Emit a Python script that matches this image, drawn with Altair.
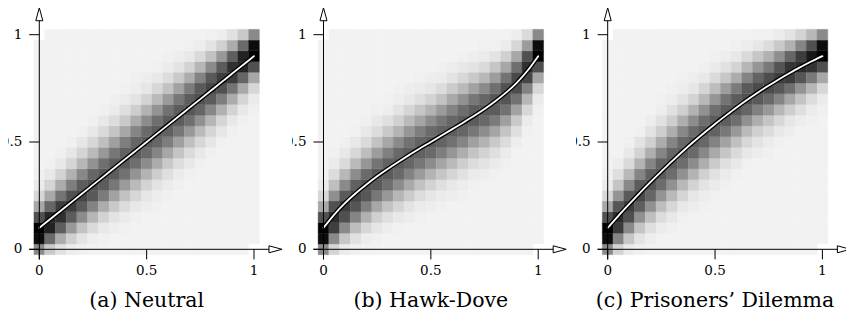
import altair as alt
import pandas as pd

# ---------------- data ----------------
GRID = [k / 20 for k in range(21)]          # 21 grid positions 0 .. 1
TICKS = [0, 0.5, 1]
TICK_LABELS = ["0", "0.5", "1"]
TITLES = ["(a) Neutral", "(b) Hawk-Dove", "(c) Prisoners\u2019 Dilemma"]

# expected next state (white curve), one value per grid column
neutral_curve = [0.10, 0.14, 0.18, 0.22, 0.26, 0.30, 0.34, 0.38, 0.42, 0.46, 0.50,
                 0.54, 0.58, 0.62, 0.66, 0.70, 0.74, 0.78, 0.82, 0.86, 0.90]
hawkdove_curve = [0.10, 0.162, 0.215, 0.261, 0.302, 0.340, 0.375, 0.408, 0.440, 0.471, 0.50,
                  0.53, 0.56, 0.59, 0.621, 0.654, 0.690, 0.730, 0.776, 0.832, 0.90]
dilemma_curve = [0.100, 0.156, 0.210, 0.263, 0.314, 0.363, 0.411, 0.457, 0.501, 0.543, 0.584,
                 0.623, 0.661, 0.697, 0.731, 0.763, 0.794, 0.823, 0.850, 0.876, 0.900]

# cell darkness (0 = light background, 100 = black); one list per column, bottom row first
# None = no cell drawn
neutral_shade = [
    [43, 95, 100, 67, 31, 11, 3, 1, 0, 0, 0, 0, 0, 0, 0, 0, 0, 0, 0, 0, None],
    [17, 56, 86, 84, 58, 30, 12, 4, 1, 0, 0, 0, 0, 0, 0, 0, 0, 0, 0, 0, 0],
    [7, 29, 61, 80, 75, 52, 29, 13, 4, 1, 0, 0, 0, 0, 0, 0, 0, 0, 0, 0, 0],
    [2, 14, 37, 62, 75, 67, 48, 27, 12, 5, 1, 0, 0, 0, 0, 0, 0, 0, 0, 0, 0],
    [1, 6, 20, 42, 63, 71, 62, 44, 25, 12, 5, 1, 0, 0, 0, 0, 0, 0, 0, 0, 0],
    [0, 2, 10, 25, 46, 63, 67, 58, 40, 23, 11, 4, 1, 0, 0, 0, 0, 0, 0, 0, 0],
    [0, 1, 4, 13, 29, 49, 62, 64, 54, 37, 21, 10, 4, 1, 0, 0, 0, 0, 0, 0, 0],
    [0, 0, 2, 6, 17, 33, 51, 62, 62, 51, 34, 19, 9, 3, 1, 0, 0, 0, 0, 0, 0],
    [0, 0, 1, 3, 9, 20, 36, 53, 62, 60, 48, 31, 17, 8, 3, 1, 0, 0, 0, 0, 0],
    [0, 0, 0, 1, 4, 11, 23, 39, 54, 62, 58, 45, 29, 15, 6, 2, 1, 0, 0, 0, 0],
    [0, 0, 0, 0, 2, 5, 13, 26, 42, 56, 62, 56, 42, 26, 13, 5, 2, 0, 0, 0, 0],
    [0, 0, 0, 0, 1, 2, 6, 15, 29, 45, 58, 62, 54, 39, 23, 11, 4, 1, 0, 0, 0],
    [0, 0, 0, 0, 0, 1, 3, 8, 17, 31, 48, 60, 62, 53, 36, 20, 9, 3, 1, 0, 0],
    [0, 0, 0, 0, 0, 0, 1, 3, 9, 19, 34, 51, 62, 62, 51, 33, 17, 6, 2, 0, 0],
    [0, 0, 0, 0, 0, 0, 0, 1, 4, 10, 21, 37, 54, 64, 62, 49, 29, 13, 4, 1, 0],
    [0, 0, 0, 0, 0, 0, 0, 0, 1, 4, 11, 23, 40, 58, 67, 63, 46, 25, 10, 2, 0],
    [0, 0, 0, 0, 0, 0, 0, 0, 0, 1, 5, 12, 25, 44, 62, 71, 63, 42, 20, 6, 1],
    [0, 0, 0, 0, 0, 0, 0, 0, 0, 0, 1, 5, 12, 27, 48, 67, 75, 62, 37, 14, 2],
    [0, 0, 0, 0, 0, 0, 0, 0, 0, 0, 0, 1, 4, 13, 29, 52, 75, 80, 61, 29, 7],
    [0, 0, 0, 0, 0, 0, 0, 0, 0, 0, 0, 0, 1, 4, 12, 30, 58, 84, 86, 56, 17],
    [None, 0, 0, 0, 0, 0, 0, 0, 0, 0, 0, 0, 0, 1, 3, 11, 31, 67, 100, 95, 43],
]

hawkdove_shade = [
    [43, 95, 100, 67, 31, 11, 3, 1, 0, 0, 0, 0, 0, 0, 0, 0, 0, 0, 0, 0, None],
    [12, 43, 74, 82, 67, 41, 21, 9, 3, 1, 0, 0, 0, 0, 0, 0, 0, 0, 0, 0, 0],
    [3, 18, 43, 67, 75, 63, 43, 24, 10, 4, 1, 0, 0, 0, 0, 0, 0, 0, 0, 0, 0],
    [1, 7, 22, 45, 65, 71, 60, 42, 23, 11, 4, 1, 0, 0, 0, 0, 0, 0, 0, 0, 0],
    [0, 2, 11, 27, 48, 64, 66, 56, 38, 22, 10, 4, 1, 0, 0, 0, 0, 0, 0, 0, 0],
    [0, 1, 5, 14, 31, 51, 63, 63, 52, 35, 20, 9, 4, 1, 0, 0, 0, 0, 0, 0, 0],
    [0, 0, 2, 8, 20, 37, 54, 62, 60, 47, 31, 17, 8, 2, 1, 0, 0, 0, 0, 0, 0],
    [0, 0, 1, 4, 12, 25, 42, 56, 62, 57, 43, 26, 14, 6, 2, 1, 0, 0, 0, 0, 0],
    [0, 0, 0, 2, 6, 16, 30, 46, 58, 61, 53, 38, 23, 12, 4, 2, 0, 0, 0, 0, 0],
    [0, 0, 0, 1, 3, 9, 20, 36, 51, 60, 59, 48, 32, 18, 8, 3, 1, 0, 0, 0, 0],
    [0, 0, 0, 0, 2, 5, 13, 26, 42, 56, 62, 56, 42, 26, 13, 5, 2, 0, 0, 0, 0],
    [0, 0, 0, 0, 1, 3, 8, 18, 32, 48, 59, 60, 51, 36, 20, 9, 3, 1, 0, 0, 0],
    [0, 0, 0, 0, 0, 2, 4, 12, 23, 38, 53, 61, 58, 46, 30, 16, 6, 2, 0, 0, 0],
    [0, 0, 0, 0, 0, 1, 2, 7, 15, 28, 45, 58, 62, 55, 40, 23, 11, 4, 1, 0, 0],
    [0, 0, 0, 0, 0, 0, 1, 3, 9, 19, 34, 51, 62, 62, 51, 33, 17, 6, 2, 0, 0],
    [0, 0, 0, 0, 0, 0, 0, 2, 6, 13, 26, 42, 57, 63, 58, 43, 24, 10, 3, 1, 0],
    [0, 0, 0, 0, 0, 0, 0, 1, 3, 8, 17, 32, 49, 62, 64, 54, 35, 18, 6, 1, 0],
    [0, 0, 0, 0, 0, 0, 0, 0, 1, 3, 9, 19, 34, 53, 65, 66, 52, 31, 14, 3, 0],
    [0, 0, 0, 0, 0, 0, 0, 0, 0, 0, 2, 8, 17, 33, 53, 68, 70, 54, 31, 11, 2],
    [0, 0, 0, 0, 0, 0, 0, 0, 0, 0, 0, 1, 3, 11, 25, 46, 71, 81, 67, 36, 10],
    [None, 0, 0, 0, 0, 0, 0, 0, 0, 0, 0, 0, 0, 1, 3, 11, 31, 67, 100, 95, 43],
]

dilemma_shade = [
    [43, 95, 100, 67, 31, 11, 3, 1, 0, 0, 0, 0, 0, 0, 0, 0, 0, 0, 0, 0, None],
    [13, 45, 76, 82, 65, 39, 19, 8, 2, 0, 0, 0, 0, 0, 0, 0, 0, 0, 0, 0, 0],
    [3, 18, 43, 67, 75, 63, 43, 24, 10, 4, 1, 0, 0, 0, 0, 0, 0, 0, 0, 0, 0],
    [1, 6, 19, 40, 61, 70, 62, 45, 26, 13, 6, 1, 0, 0, 0, 0, 0, 0, 0, 0, 0],
    [0, 2, 8, 21, 40, 58, 65, 60, 45, 28, 14, 6, 2, 0, 0, 0, 0, 0, 0, 0, 0],
    [0, 0, 3, 9, 22, 39, 55, 63, 59, 45, 29, 15, 7, 2, 1, 0, 0, 0, 0, 0, 0],
    [0, 0, 1, 4, 11, 23, 40, 55, 62, 58, 45, 28, 15, 7, 2, 1, 0, 0, 0, 0, 0],
    [0, 0, 0, 1, 4, 12, 24, 40, 55, 62, 57, 44, 28, 14, 6, 2, 1, 0, 0, 0, 0],
    [0, 0, 0, 0, 2, 5, 13, 26, 42, 56, 62, 56, 42, 26, 13, 5, 2, 0, 0, 0, 0],
    [0, 0, 0, 0, 1, 2, 6, 14, 28, 44, 57, 62, 55, 40, 24, 12, 4, 1, 0, 0, 0],
    [0, 0, 0, 0, 0, 1, 3, 7, 16, 30, 46, 59, 62, 54, 38, 22, 10, 3, 1, 0, 0],
    [0, 0, 0, 0, 0, 0, 1, 3, 8, 18, 33, 50, 61, 62, 52, 35, 18, 7, 2, 0, 0],
    [0, 0, 0, 0, 0, 0, 0, 1, 4, 10, 21, 37, 54, 64, 62, 49, 29, 13, 4, 1, 0],
    [0, 0, 0, 0, 0, 0, 0, 0, 1, 4, 11, 23, 40, 58, 67, 63, 46, 25, 10, 2, 0],
    [0, 0, 0, 0, 0, 0, 0, 0, 0, 2, 6, 14, 28, 47, 63, 69, 59, 38, 18, 5, 1],
    [0, 0, 0, 0, 0, 0, 0, 0, 0, 1, 3, 9, 19, 37, 56, 69, 68, 50, 27, 9, 1],
    [0, 0, 0, 0, 0, 0, 0, 0, 0, 0, 1, 4, 11, 25, 45, 64, 75, 65, 41, 17, 3],
    [0, 0, 0, 0, 0, 0, 0, 0, 0, 0, 0, 2, 5, 15, 31, 54, 75, 78, 58, 27, 6],
    [0, 0, 0, 0, 0, 0, 0, 0, 0, 0, 0, 0, 2, 8, 19, 39, 65, 82, 75, 45, 13],
    [0, 0, 0, 0, 0, 0, 0, 0, 0, 0, 0, 0, 1, 3, 9, 25, 50, 79, 90, 67, 24],
    [None, 0, 0, 0, 0, 0, 0, 0, 0, 0, 0, 0, 0, 1, 3, 11, 31, 67, 100, 95, 43],
]

# ---------------- layout / style ----------------
FONT = "DejaVu Serif"
H = 305
Y_DOMAIN = [-0.2968, 1.1244]
HALF = 0.025            # half cell
TICK_LEN = 0.047        # ~10 px in data units
AXIS_END = 1.11
ARROW_POS = 1.10
RIGHT_ARROW = "M -1 -0.54 L 1 0 L -1 0.54 Z"
UP_ARROW = "M -0.54 1 L 0 -1 L 0.54 1 Z"

panel_specs = [
    (neutral_shade, neutral_curve, TITLES[0], [-0.1458, 1.1770], 284),
    (hawkdove_shade, hawkdove_curve, TITLES[1], [-0.1467, 1.1761], 284),
    (dilemma_shade, dilemma_curve, TITLES[2], [-0.1476, 1.1099], 270),
]


def make_panel(shade, curve, title, xdom, width):
    xs = alt.Scale(domain=xdom, nice=False, zero=False)
    ys = alt.Scale(domain=Y_DOMAIN, nice=False, zero=False)
    cs = alt.Scale(domain=[0, 100], range=["#f2f2f2", "#000000"], interpolate="rgb")

    cells = []
    for k, col in enumerate(shade):
        for j, d in enumerate(col):
            if d is None:
                continue
            cells.append({"x": GRID[k] - HALF, "x2": GRID[k] + HALF,
                          "y": GRID[j] - HALF, "y2": GRID[j] + HALF, "d": d})
    cells = pd.DataFrame(cells)
    heat = alt.Chart(cells).mark_rect(clip=True, strokeWidth=0.4).encode(
        x=alt.X("x:Q", scale=xs, axis=None), x2="x2:Q",
        y=alt.Y("y:Q", scale=ys, axis=None), y2="y2:Q",
        color=alt.Color("d:Q", scale=cs, legend=None),
        stroke=alt.Stroke("d:Q", scale=cs, legend=None),
    )

    cdf = pd.DataFrame({"x": GRID, "y": curve})
    base_line = alt.Chart(cdf).encode(
        x=alt.X("x:Q", scale=xs, axis=None), y=alt.Y("y:Q", scale=ys, axis=None))
    outline = base_line.mark_line(color="black", strokeWidth=4.4, strokeCap="round",
                                  interpolate="monotone", clip=True)
    core = base_line.mark_line(color="white", strokeWidth=1.8, strokeCap="round",
                               interpolate="monotone", clip=True)

    xaxis = alt.Chart(pd.DataFrame({"x": [-TICK_LEN], "x2": [AXIS_END], "y": [0]})).mark_rule(
        color="black", strokeWidth=1, clip=True).encode(
        x=alt.X("x:Q", scale=xs, axis=None), x2="x2:Q", y=alt.Y("y:Q", scale=ys, axis=None))
    yaxis = alt.Chart(pd.DataFrame({"x": [0], "y": [-TICK_LEN], "y2": [AXIS_END]})).mark_rule(
        color="black", strokeWidth=1, clip=True).encode(
        x=alt.X("x:Q", scale=xs, axis=None), y=alt.Y("y:Q", scale=ys, axis=None), y2="y2:Q")

    tdf = pd.DataFrame({"t": TICKS, "label": TICK_LABELS, "zero": [0, 0, 0],
                        "lo": [-TICK_LEN] * 3})
    xticks = alt.Chart(tdf).mark_rule(color="black", strokeWidth=1, clip=True).encode(
        x=alt.X("t:Q", scale=xs, axis=None), y=alt.Y("zero:Q", scale=ys, axis=None), y2="lo:Q")
    yticks = alt.Chart(tdf).mark_rule(color="black", strokeWidth=1, clip=True).encode(
        y=alt.Y("t:Q", scale=ys, axis=None), x=alt.X("zero:Q", scale=xs, axis=None), x2="lo:Q")
    xlabels = alt.Chart(tdf).mark_text(font=FONT, fontSize=13.5, align="center",
                                       baseline="alphabetic", dy=26, clip=True,
                                       color="black").encode(
        x=alt.X("t:Q", scale=xs, axis=None), y=alt.Y("zero:Q", scale=ys, axis=None),
        text="label:N")
    ylabels = alt.Chart(tdf).mark_text(font=FONT, fontSize=13.5, align="right",
                                       baseline="middle", dx=-17, clip=True,
                                       color="black").encode(
        y=alt.Y("t:Q", scale=ys, axis=None), x=alt.X("zero:Q", scale=xs, axis=None),
        text="label:N")

    arrows = pd.DataFrame({"x": [ARROW_POS, 0], "y": [0, ARROW_POS - 0.0046],
                           "shape": [RIGHT_ARROW, UP_ARROW]})
    heads = alt.Chart(arrows).mark_point(filled=True, fill="white", stroke="black",
                                         strokeWidth=1, size=169, opacity=1,
                                         clip=True).encode(
        x=alt.X("x:Q", scale=xs, axis=None), y=alt.Y("y:Q", scale=ys, axis=None),
        shape=alt.Shape("shape:N", scale=None, legend=None))

    tt = alt.Chart(pd.DataFrame({"x": [0.5], "y": [0], "t": [title]})).mark_text(
        font=FONT, fontSize=20.5, align="center", baseline="alphabetic", dy=58,
        clip=True, color="black").encode(
        x=alt.X("x:Q", scale=xs, axis=None), y=alt.Y("y:Q", scale=ys, axis=None),
        text="t:N")

    return alt.layer(heat, outline, core, xaxis, yaxis, xticks, yticks, heads,
                     xlabels, ylabels, tt).properties(width=width, height=H)


panels = [make_panel(*spec) for spec in panel_specs]
chart = alt.hconcat(*panels, spacing=0).properties(
    padding=0, background="white").configure_view(strokeWidth=0)

chart.save("out.html", embed_options={"renderer": "svg", "actions": False})
